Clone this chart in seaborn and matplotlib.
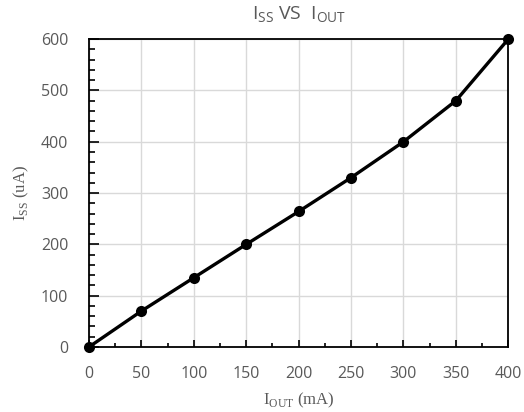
import matplotlib
matplotlib.use("Agg")
import matplotlib.pyplot as plt
import pandas as pd
import seaborn as sns
from matplotlib.ticker import MultipleLocator

# ====== DATA ======
I_OUT_MA = [0, 50, 100, 150, 200, 250, 300, 350, 400]
I_SS_UA = [0, 70, 135, 200, 264, 330, 400, 480, 600]
# ==================

df = pd.DataFrame({"iout": I_OUT_MA, "iss": I_SS_UA})

sns.set_style("white")
plt.rcParams["font.family"] = ["Open Sans", "DejaVu Sans"]

fig, ax = plt.subplots(figsize=(5.24, 4.12), dpi=100)
fig.subplots_adjust(left=0.17, right=0.97, top=0.905, bottom=0.158)

sns.lineplot(data=df, x="iout", y="iss", color="black", linewidth=2.4,
             marker="o", markersize=8, markeredgewidth=0, ax=ax, zorder=3,
             clip_on=False)

ax.set_xlim(0, 400)
ax.set_ylim(0, 600)
ax.xaxis.set_major_locator(MultipleLocator(50))
ax.xaxis.set_minor_locator(MultipleLocator(25))
ax.yaxis.set_major_locator(MultipleLocator(100))
ax.yaxis.set_minor_locator(MultipleLocator(20))

ax.grid(True, which="major", color="#d9d9d9", linewidth=1.0)
ax.set_axisbelow(True)
for s in ax.spines.values():
    s.set_color("black")
    s.set_linewidth(1.3)

ax.tick_params(axis="both", which="both", direction="in", colors="black",
               labelcolor="#595959", labelsize=11.5, width=1.2,
               bottom=True, left=True, top=False, right=False)
ax.tick_params(axis="x", which="major", length=5, pad=14)
ax.tick_params(axis="x", which="minor", length=3)
ax.tick_params(axis="y", which="major", length=7, pad=15)
ax.tick_params(axis="y", which="minor", length=4)

serif = ["Liberation Serif", "DejaVu Serif"]
ax.set_xlabel(r"I$_{\mathregular{OUT}}$ (mA)", fontsize=12, family=serif,
              color="#595959", labelpad=6)
ax.set_ylabel(r"I$_{\mathregular{SS}}$ (uA)", fontsize=12, family=serif,
              color="#595959", labelpad=7)
ax.set_title(r"I$_{\mathregular{SS}}$ VS  I$_{\mathregular{OUT}}$", fontsize=14,
             color="#595959", pad=14)

fig.savefig("out.png", dpi=100)
